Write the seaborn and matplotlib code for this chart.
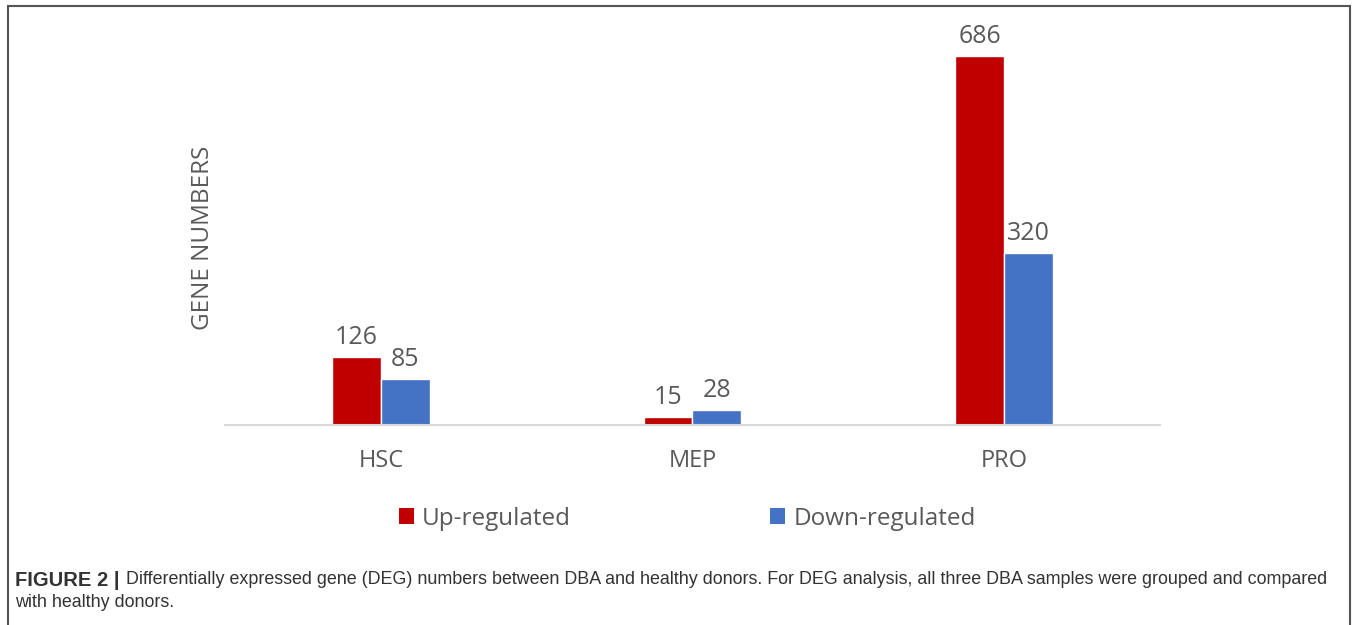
import matplotlib
matplotlib.use("Agg")
import matplotlib.pyplot as plt
import pandas as pd
import seaborn as sns
from matplotlib.patches import Patch, Rectangle

# Data
cell_types = ['HSC', 'MEP', 'PRO']
up_regulated = [126, 15, 686]
down_regulated = [85, 28, 320]
series_names = ['Up-regulated', 'Down-regulated']
colors = ['#C00000', '#4472C4']

df = pd.DataFrame({
    'cell': cell_types * 2,
    'regulation': [series_names[0]] * 3 + [series_names[1]] * 3,
    'genes': up_regulated + down_regulated,
})

sns.set_style('white')
plt.rcParams['font.family'] = ['Open Sans', 'DejaVu Sans']
grey = '#595959'

fig = plt.figure(figsize=(13.57, 6.25), dpi=100)
ax = fig.add_axes([0.1658, 0.32, 0.689, 0.645])

sns.barplot(data=df, x='cell', y='genes', hue='regulation', palette=colors,
            width=0.314, saturation=1, ax=ax, legend=False)

for c in ax.containers:
    ax.bar_label(c, padding=5, fontsize=18, color=grey)

ax.set_xlim(-0.5, 2.5)
ax.set_ylim(0, 750)
ax.set_yticks([])
ax.set_xlabel('')
ax.set_ylabel('GENE NUMBERS', fontsize=17.5, color=grey)
ax.yaxis.set_label_coords(-0.011, 0.465)
ax.tick_params(axis='x', length=0, labelsize=17, labelcolor=grey, pad=17)
for s in ['top', 'right', 'left']:
    ax.spines[s].set_visible(False)
ax.spines['bottom'].set_color('#D9D9D9')
ax.spines['bottom'].set_linewidth(1.5)

handles = [Patch(facecolor=col, edgecolor='none') for col in colors]
fig.legend(handles, series_names, loc='center', bbox_to_anchor=(0.5066, 0.17),
           ncol=2, frameon=False, fontsize=17.5, labelcolor=grey,
           handlelength=0.6, handleheight=0.6, handletextpad=0.35,
           columnspacing=8.2)

# caption
cap_font = ['Liberation Sans Narrow', 'Liberation Sans', 'DejaVu Sans']
fig.text(0.011, 0.072, 'FIGURE 2 |', fontsize=14.5, fontweight='bold',
         color='#333333', family=cap_font, va='center')
fig.text(0.0929, 0.072,
         'Differentially expressed gene (DEG) numbers between DBA and healthy donors. '
         'For DEG analysis, all three DBA samples were grouped and compared',
         fontsize=12.9, color='#333333', family=cap_font, va='center')
fig.text(0.011, 0.036, 'with healthy donors.', fontsize=12.9, color='#333333',
         family=cap_font, va='center')

# frame around the figure
fig.patches.append(Rectangle((0.006, -0.02), 0.989, 1.01, transform=fig.transFigure,
                             fill=False, edgecolor='#555555', linewidth=1.5))

fig.savefig('out.png', dpi=100)
